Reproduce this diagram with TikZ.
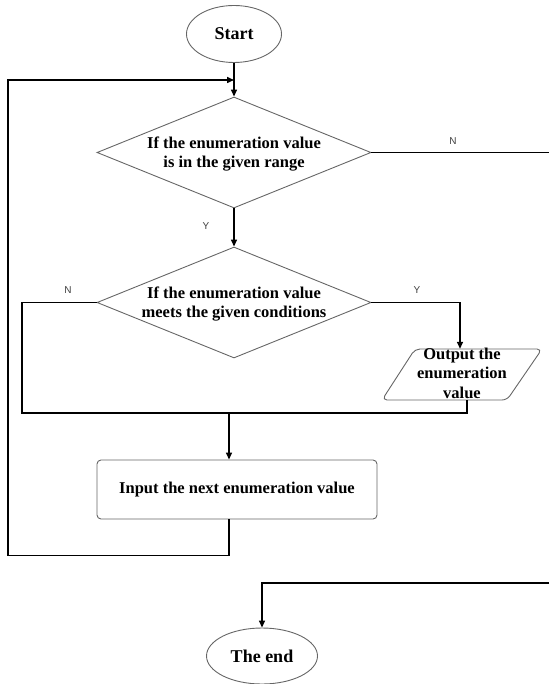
\documentclass[tikz,border=0pt]{standalone}
\usepackage{fontspec}
\setmainfont{Liberation Serif}
\newfontfamily\lblfont{Liberation Sans}
\usetikzlibrary{shapes.geometric,arrows.meta}
\begin{document}
\begin{tikzpicture}[x=1pt,y=-1pt,
  shapeline/.style={draw=black!60, line width=0.9pt},
  conn/.style={draw=black, line width=1.5pt},
  arr/.style={-{Triangle[length=7pt,width=6pt]}},
  txt/.style={font=\fontsize{16.5}{19.5}\selectfont\bfseries, text=black, align=center, inner sep=0pt},
  lbl/.style={font=\lblfont\fontsize{10}{12}\selectfont, text=black!75, inner sep=0pt},
  terminal/.style={ellipse, shapeline, minimum width=95pt, minimum height=57pt, inner sep=0pt, txt, font=\fontsize{18}{20}\selectfont\bfseries},
  decision/.style={diamond, shapeline, minimum width=274pt, minimum height=111pt, inner sep=0pt},
  process/.style={rectangle, rounded corners=4pt, shapeline, minimum width=280pt, minimum height=59pt, txt}
]
\useasboundingbox (0,0) rectangle (549,684);

% nodes
\node[terminal] (start) at (234,34) {Start};
\node[decision] (d1) at (234,152.5) {};
\node[txt] (d1t) at (234,154) {If the enumeration value\\is in the given range};
\node[decision] (d2) at (234,302.5) {};
\node[txt] (d2t) at (234,304) {If the enumeration value\\meets the given conditions};
\node[inner sep=0pt, minimum width=127pt, minimum height=51pt] (out) at (462,374.5) {};
\draw[shapeline, rounded corners=5pt] (382,400) -- (415,349) -- (542,349) -- (507,400) -- cycle;
\node[txt] (outt) at (462,373) {Output the\\enumeration\\value};
\node[process] (inp) at (237,489.5) {Input the next enumeration value};
\node[terminal, minimum width=111pt, minimum height=56pt] (end) at (262,656) {The end};

% free ends / bends
\coordinate (loopin) at (234,80);
\coordinate (exitN) at (549,152.5);
\coordinate (merge) at (229,413);
\coordinate (endin) at (549,583);

% connectors
\draw[conn,arr] (start) -- (d1);
\draw[conn,arr] ([xshift=-8pt]inp.south) -- ++(0,36) -| (8,80) -- (loopin);
\draw[conn] (d1.east) -- (exitN);
\node[lbl] (lN1) at (453,141) {N};
\draw[conn,arr] (d1) -- (d2);
\node[lbl] (lY1) at (206,226) {Y};
\draw[conn,arr] (d2.east) -| ([xshift=-2pt]out.north);
\node[lbl] (lY2) at (417,290) {Y};
\draw[conn] (d2.west) -| (22,413) -| ([xshift=5pt]out.south);
\node[lbl] (lN2) at (68,290) {N};
\draw[conn,arr] (merge) -- ([xshift=-8pt]inp.north);
\draw[conn,arr] (endin) -| (end.north);
\end{tikzpicture}
\end{document}
